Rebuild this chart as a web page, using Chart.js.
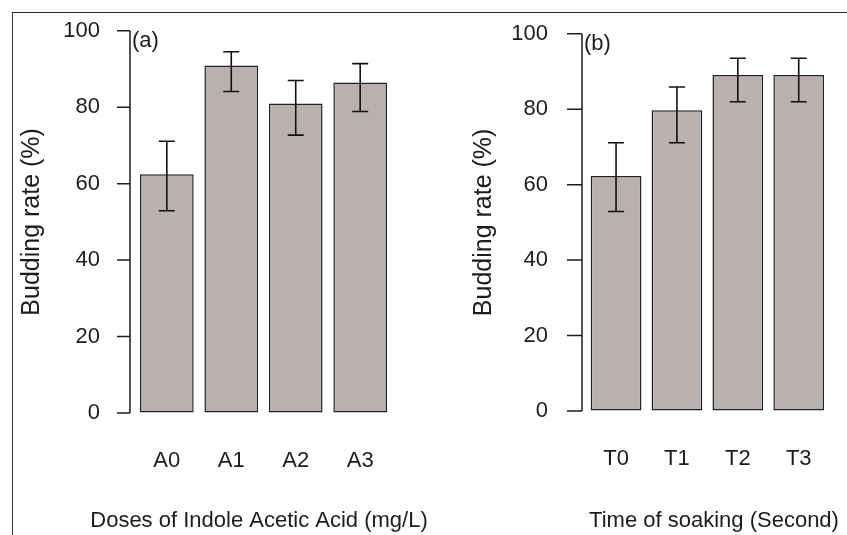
<!DOCTYPE html>
<html>
<head>
<meta charset="utf-8">
<script src="https://cdn.jsdelivr.net/npm/chart.js@4.4.1/dist/chart.umd.min.js"></script>
<style>
  html, body { margin:0; padding:0; background:#fff; }
  #wrap { position:relative; width:847px; height:535px; overflow:hidden; }
  #frame { position:absolute; left:12px; top:12px; width:840px; height:530px;
           border-left:1.5px solid #3a3a3a; border-top:1.5px solid #2a2a2a; }
  .panel { position:absolute; top:0; height:535px; }
  #pa { left:0; width:445px; }
  #pb { left:424px; width:423px; }
</style>
</head>
<body>
<div id="wrap">
  <div id="frame"></div>
  <div class="panel" id="pa"><canvas id="chartA"></canvas></div>
  <div class="panel" id="pb"><canvas id="chartB"></canvas></div>
</div>
<script>
// ── DATA ──────────────────────────────────────────────────────────────────────
const yTicks   = [0, 20, 40, 60, 80, 100];

const doseLabels = ['A0', 'A1', 'A2', 'A3'];
const doseMeans  = [62.5, 90.9, 81.0, 86.5];
const doseLow    = [52.9, 84.1, 72.7, 78.9];
const doseHigh   = [71.1, 94.5, 87.0, 91.4];

const soakLabels = ['T0', 'T1', 'T2', 'T3'];
const soakMeans  = [62.3, 79.7, 89.1, 89.1];
const soakLow    = [52.9, 71.1, 82.0, 82.0];
const soakHigh   = [71.1, 85.9, 93.5, 93.5];

// ── STYLE ─────────────────────────────────────────────────────────────────────
const FONT   = 'Liberation Sans, Arial, sans-serif';
const INK    = '#1c1c1c';
const BARCOL = '#b8b1af';

// axis line + ticks, error bars, panel tag, x title
const decorPlugin = {
  id: 'decor',
  afterDatasetsDraw(chart) {
    const o = chart.options.plugins.decor;
    const y = chart.scales.y;
    const ctx = chart.ctx;
    const ax = chart.chartArea.left - o.axisGap;
    ctx.save();
    ctx.strokeStyle = INK;
    ctx.lineWidth = 1.5;
    ctx.beginPath();
    ctx.moveTo(ax, y.getPixelForValue(0));
    ctx.lineTo(ax, y.getPixelForValue(100));
    yTicks.forEach(v => {
      const py = y.getPixelForValue(v);
      ctx.moveTo(ax, py);
      ctx.lineTo(ax - o.tickLen, py);
    });
    ctx.stroke();

    // error bars
    const meta = chart.getDatasetMeta(0);
    ctx.lineWidth = 1.6;
    ctx.strokeStyle = '#111';
    meta.data.forEach((bar, i) => {
      const x  = bar.x;
      const y1 = y.getPixelForValue(o.low[i]);
      const y2 = y.getPixelForValue(o.high[i]);
      ctx.beginPath();
      ctx.moveTo(x, y1); ctx.lineTo(x, y2);
      ctx.moveTo(x - 8, y1); ctx.lineTo(x + 8, y1);
      ctx.moveTo(x - 8, y2); ctx.lineTo(x + 8, y2);
      ctx.stroke();
    });

    ctx.fillStyle = INK;
    ctx.font = '22px ' + FONT;
    ctx.textAlign = 'left';
    ctx.textBaseline = 'middle';
    ctx.fillText(o.tag, ax + 2, y.getPixelForValue(100) + 10);

    ctx.textAlign = 'center';
    ctx.fillText(o.xTitle, o.xTitleX, 521);
    ctx.restore();
  }
};

function makePanel(id, cfg) {
  return new Chart(document.getElementById(id), {
    type: 'bar',
    data: {
      labels: cfg.labels,
      datasets: [{
        data: cfg.means,
        backgroundColor: BARCOL,
        borderColor: '#222',
        borderWidth: 1.5,
        borderSkipped: false,
        barPercentage: 1 / 1.2,
        categoryPercentage: 1
      }]
    },
    options: {
      responsive: true,
      maintainAspectRatio: false,
      animation: false,
      events: [],
      layout: { padding: { left: 0, top: cfg.top, right: cfg.right, bottom: 0 } },
      plugins: {
        legend: { display: false },
        tooltip: { enabled: false },
        decor: { low: cfg.low, high: cfg.high, tag: cfg.tag, axisGap: cfg.axisGap,
                 tickLen: cfg.tickLen, xTitle: cfg.xTitle, xTitleX: cfg.xTitleX }
      },
      scales: {
        x: {
          grid: { display: false, drawTicks: false },
          border: { display: false },
          ticks: { color: INK, font: { family: FONT, size: 22 }, padding: 35 },
          afterFit(s) { s.height = 535 - cfg.zeroY; }
        },
        y: {
          min: 0, max: 100,
          afterBuildTicks(s) { s.ticks = yTicks.map(v => ({ value: v })); },
          grid: { display: true, drawOnChartArea: false, color: 'transparent', tickLength: 17 },
          border: { display: false },
          ticks: { color: INK, font: { family: FONT, size: 22 }, padding: cfg.labelPad },
          title: { display: true, text: 'Budding rate (%)', color: INK,
                   font: { family: FONT, size: 25 }, padding: { top: cfg.titlePad, bottom: 0 } },
          afterFit(s) { s.width = cfg.yWidth; }
        }
      }
    },
    plugins: [decorPlugin]
  });
}

makePanel('chartA', {
  labels: doseLabels, means: doseMeans, low: doseLow, high: doseHigh, tag: '(a)',
  xTitle: 'Doses of Indole Acetic Acid (mg/L)', xTitleX: 259,
  top: 29, right: 52.6, zeroY: 413, yWidth: 134.6, labelPad: 17.6,
  titlePad: 17, axisGap: 4.6, tickLen: 13
});

makePanel('chartB', {
  labels: soakLabels, means: soakMeans, low: soakLow, high: soakHigh, tag: '(b)',
  xTitle: 'Time of soaking (Second)', xTitleX: 290,
  top: 27, right: 3.6, zeroY: 411, yWidth: 161.6, labelPad: 20.6,
  titlePad: 45, axisGap: 3.6, tickLen: 15
});
</script>
</body>
</html>
